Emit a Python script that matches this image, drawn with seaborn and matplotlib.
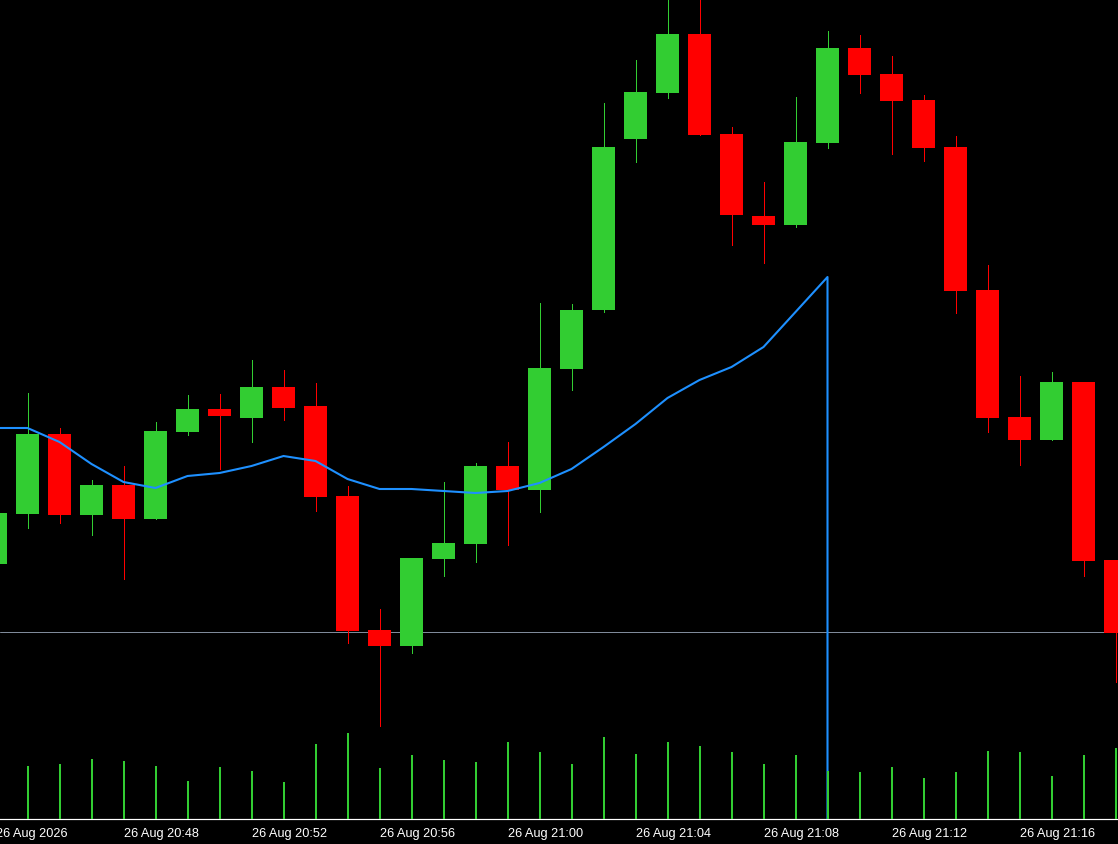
import matplotlib

matplotlib.use("Agg")
import matplotlib.pyplot as plt
import numpy as np
import pandas as pd
import seaborn as sns

# one-minute bars, 26 Aug 20:44 .. 21:19 (price in chart points)
times = [f"20:{m:02d}" for m in range(44, 60)] + [f"21:{m:02d}" for m in range(0, 20)]
opens = [255, 305, 385, 304, 334, 300, 387, 410, 401, 432, 413, 323, 189, 173, 260, 275, 353, 329,
         450, 509, 680, 726, 785, 685, 603, 594, 676, 771, 745, 719, 672, 529, 402, 379, 437, 259]
highs = [312, 426, 391, 339, 353, 397, 424, 425, 459, 449, 436, 333, 210, 261, 337, 356, 377, 516,
         515, 716, 759, 828, 830, 692, 637, 722, 788, 784, 763, 724, 683, 554, 443, 447, 437, 259]
lows = [250, 291, 296, 284, 240, 300, 384, 350, 377, 399, 308, 176, 93, 166, 243, 257, 274, 307,
        429, 507, 657, 721, 684, 574, 556, 592, 671, 726, 665, 658, 506, 387, 354, 379, 243, 137]
closes = [306, 385, 304, 334, 300, 388, 410, 403, 432, 411, 322, 188, 173, 261, 276, 353, 329, 451,
          509, 672, 727, 785, 684, 604, 594, 677, 771, 744, 718, 671, 528, 401, 379, 437, 258, 186]
volumes = [50, 53, 55, 60, 58, 53, 38, 52, 48, 37, 75, 86, 51, 64, 59, 57, 77, 67,
           55, 82, 65, 77, 73, 67, 55, 64, 48, 47, 52, 41, 47, 68, 67, 43, 64, 71]
# moving average, defined up to the 21:08 bar
ma_values = [391, 391, 377, 355, 337, 331, 343, 346, 353, 363, 358, 340, 330, 330, 328, 326, 328,
             336, 350, 372, 395, 421, 439, 452, 472, 507, 542]
bid_price = 187
label_idx = [0, 4, 8, 12, 16, 20, 24, 28, 32]
label_text = ["26 Aug 2026", "26 Aug 20:48", "26 Aug 20:52", "26 Aug 20:56", "26 Aug 21:00",
              "26 Aug 21:04", "26 Aug 21:08", "26 Aug 21:12", "26 Aug 21:16"]

df = pd.DataFrame({"time": times, "open": opens, "high": highs, "low": lows,
                   "close": closes, "volume": volumes})
df["idx"] = np.arange(len(df))
up = df["close"] >= df["open"]

GREEN = "#32cd32"
RED = "#ff0000"

sns.set_theme(style="dark", rc={"axes.facecolor": "black", "figure.facecolor": "black",
                                "axes.grid": False})
plt.rcParams["font.family"] = ["Liberation Sans", "DejaVu Sans"]

W, H = 1118, 845
fig = plt.figure(figsize=(W / 100, H / 100), dpi=100)
ax = fig.add_axes([0, 25 / H, 1, 820 / H])
ax.set_facecolor("black")

colors = np.where(up, GREEN, RED)
px = 1 / 100 * 72  # one pixel in points

# volume bars at the bottom
vol = ax.twinx()
vol.vlines(df["idx"], 0, df["volume"], colors=GREEN, linewidth=2 * px, antialiased=False)
vol.set_ylim(0, 820)
vol.set_yticks([])
for s in vol.spines.values():
    s.set_visible(False)

# candles
ax.vlines(df["idx"], df["low"], df["high"], colors=colors, linewidth=px, antialiased=False, zorder=2)
body_lo = np.minimum(df["open"], df["close"])
body_h = np.abs(df["close"] - df["open"]).clip(lower=1)
ax.bar(df["idx"], body_h, bottom=body_lo, width=23 / 32, color=colors, linewidth=0,
       antialiased=False, zorder=3)

# moving average, dropping to zero where it stops
ma_df = pd.DataFrame({"idx": list(range(len(ma_values))) + [len(ma_values) - 1],
                      "ma": ma_values + [-50]})
sns.lineplot(data=ma_df, x="idx", y="ma", ax=ax, color="#1e90ff", linewidth=1.5,
             estimator=None, sort=False, zorder=4)

ax.axhline(bid_price, color="#7f8a9a", linewidth=px, zorder=1)

ax.set_yticks([])
ax.set_xlabel("")
ax.set_ylabel("")
for name, s in ax.spines.items():
    s.set_visible(name == "bottom")
ax.spines["bottom"].set_color("white")
ax.spines["bottom"].set_linewidth(1.2 * px)
ax.set_xticks(label_idx[1:])
ax.set_xticklabels(label_text[1:])
ax.tick_params(axis="x", colors="white", direction="out", length=4, width=px,
               pad=2, labelsize=9.2, labelcolor="white")
for t in ax.get_xticklabels():
    t.set_ha("left")
ax.set_xlim(4.5 / 32, (W + 4.5) / 32)
ax.set_ylim(0, 820)

# first label sits left of the visible range, so place it by hand
trans, va, _ = ax.get_xaxis_text1_transform(6)
ax.text(label_idx[0] + 0.02, 0, label_text[0], transform=trans, ha="left", va=va,
        color="white", fontsize=9.2, clip_on=False)

fig.savefig("out.png", dpi=100, facecolor="black")
